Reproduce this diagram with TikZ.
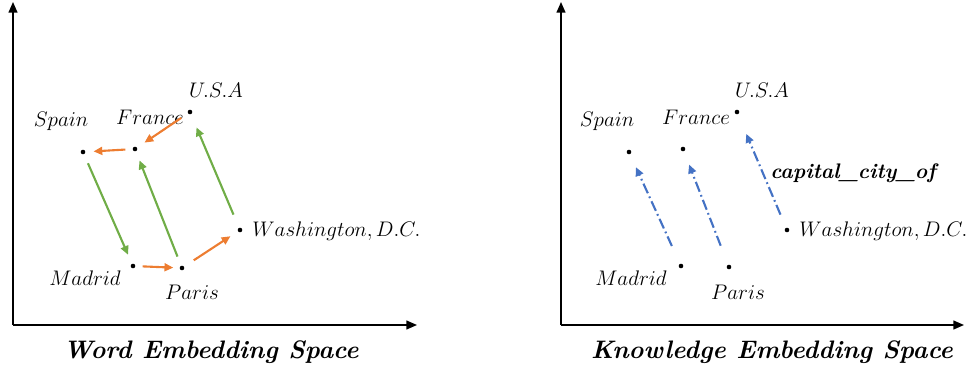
\documentclass[tikz,border=0pt]{standalone}
\usepackage{amsmath,amssymb}
\usepackage{xcolor}
\usepackage{tikz}
\usetikzlibrary{arrows.meta}

\definecolor{relorange}{RGB}{237,125,49}
\definecolor{relgreen}{RGB}{112,173,71}
\definecolor{relblue}{RGB}{68,114,196}

\begin{document}
\begin{tikzpicture}[
    x=0.02cm, y=-0.02cm,
    pt/.style={circle, fill=black, inner sep=0pt, minimum size=2.6pt},
    lbl/.style={inner sep=0pt, font=\large},
    title/.style={inner sep=0pt, font=\Large\bfseries\itshape},
    axis/.style={-{Triangle[length=6pt, width=5pt]}, line width=0.9pt},
    offset/.style={-{Triangle[length=5pt, width=4.5pt]}, line width=1.2pt, relorange},
    capital/.style={-{Triangle[length=5pt, width=4.5pt]}, line width=1.2pt, relgreen},
    relation/.style={-{Triangle[length=5pt, width=4.5pt]}, line width=1.2pt, relblue, dash pattern=on 6pt off 2pt on 1pt off 2pt}
]
\useasboundingbox (0,0) rectangle (974,375);

% word embedding space
\coordinate (wo) at (13,325);
\coordinate (wy) at (13,2);
\coordinate (wx) at (417,325);
\draw[axis] (wo) -- (wy);
\draw[axis] (wo) -- (wx);

\node[pt] (wspain) at (83,152) {};
\node[pt] (wfrance) at (135,149) {};
\node[pt] (wusa) at (190,112) {};
\node[pt] (wwash) at (240,230) {};
\node[pt] (wmadrid) at (133,266) {};
\node[pt] (wparis) at (182,268) {};

\node[lbl] (wspainL) at (61,121) {$Spain$};
\node[lbl] (wfranceL) at (150,117) {$France$};
\node[lbl] (wusaL) at (216,90) {$U.S.A$};
\node[lbl, anchor=west] (wwashL) at (252,231) {$Washington,D.C.$};
\node[lbl] (wmadridL) at (85,278) {$Madrid$};
\node[lbl] (wparisL) at (192,292) {$Paris$};

\draw[capital, shorten <=5.5pt, shorten >=5.5pt] (wspain) -- (wmadrid);
\draw[capital, shorten <=5.5pt, shorten >=5.5pt] (wparis) -- (wfrance);
\draw[capital, shorten <=8pt, shorten >=8pt] (wwash) -- (wusa);
\draw[offset, shorten <=4.5pt, shorten >=5pt] (wusa) -- (wfrance);
\draw[offset, shorten <=4pt, shorten >=4.5pt] (wfrance) -- (wspain);
\draw[offset, shorten <=4pt, shorten >=3.5pt] (wmadrid) -- (wparis);
\draw[offset, shorten <=6.5pt, shorten >=5pt] (wparis) -- (wwash);

\node[title] (wtitle) at (211,352) {Word Embedding Space};

% knowledge embedding space
\coordinate (ko) at (561,325);
\coordinate (ky) at (561,2);
\coordinate (kx) at (964,325);
\draw[axis] (ko) -- (ky);
\draw[axis] (ko) -- (kx);

\node[pt] (kspain) at (629,152) {};
\node[pt] (kfrance) at (683,149) {};
\node[pt] (kusa) at (737,112) {};
\node[pt] (kwash) at (787,230) {};
\node[pt] (kmadrid) at (681,266) {};
\node[pt] (kparis) at (729,267) {};

\node[lbl] (kspainL) at (607,121) {$Spain$};
\node[lbl] (kfranceL) at (696,117) {$France$};
\node[lbl] (kusaL) at (762,90) {$U.S.A$};
\node[lbl, anchor=west] (kwashL) at (799,231) {$Washington,D.C.$};
\node[lbl] (kmadridL) at (631,278) {$Madrid$};
\node[lbl] (kparisL) at (738,292) {$Paris$};

\draw[relation, shorten <=11pt, shorten >=8pt] (kmadrid) -- (kspain);
\draw[relation, shorten <=11.5pt, shorten >=8pt] (kparis) -- (kfrance);
\draw[relation, shorten <=8pt, shorten >=12pt] (kwash) -- (kusa);

\node[inner sep=0pt, font=\large\bfseries\itshape] (krel) at (853,173) {capital\_city\_of};

\node[title] (ktitle) at (772,352) {Knowledge Embedding Space};
\end{tikzpicture}
\end{document}
